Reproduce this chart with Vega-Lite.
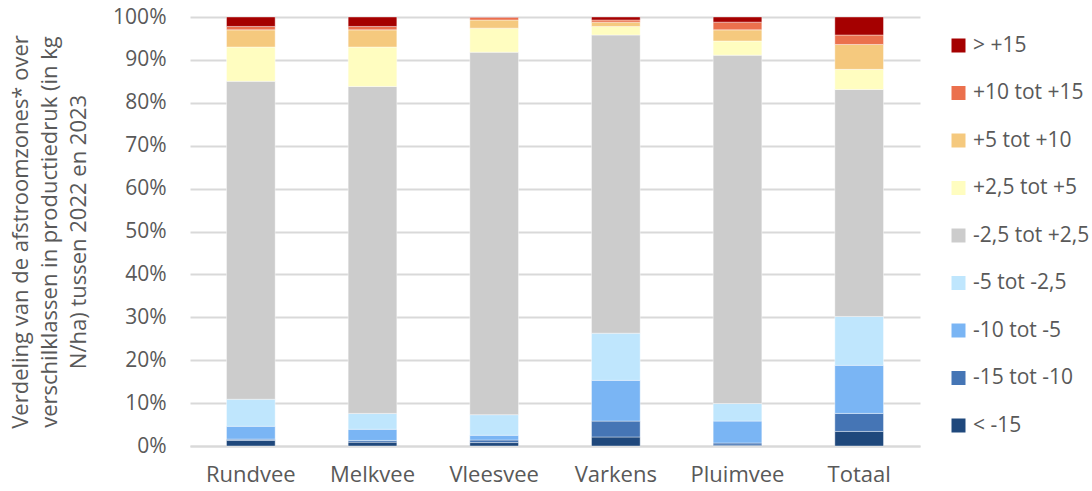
{
  "$schema": "https://vega.github.io/schema/vega-lite/v6.json",
  "width": 730,
  "height": 429,
  "autosize": {"type": "none"},
  "padding": {"left": 190, "top": 17, "right": 172, "bottom": 45},
  "background": "white",
  "config": {
    "font": "Open Sans",
    "view": {"stroke": null},
    "axis": {"labelFont": "Open Sans", "titleFont": "Open Sans", "labelColor": "#595959", "titleColor": "#595959"},
    "legend": {"labelFont": "Open Sans", "labelColor": "#595959"}
  },
  "data": {
    "values": [
      {"groep": "Rundvee", "klasse": "< -15", "k": 1, "v": 1.3},
      {"groep": "Rundvee", "klasse": "-15 tot -10", "k": 2, "v": 0.3},
      {"groep": "Rundvee", "klasse": "-10 tot -5", "k": 3, "v": 3.0},
      {"groep": "Rundvee", "klasse": "-5 tot -2,5", "k": 4, "v": 6.3},
      {"groep": "Rundvee", "klasse": "-2,5 tot +2,5", "k": 5, "v": 74.1},
      {"groep": "Rundvee", "klasse": "+2,5 tot +5", "k": 6, "v": 8.0},
      {"groep": "Rundvee", "klasse": "+5 tot +10", "k": 7, "v": 4.0},
      {"groep": "Rundvee", "klasse": "+10 tot +15", "k": 8, "v": 0.8},
      {"groep": "Rundvee", "klasse": "> +15", "k": 9, "v": 2.2},
      {"groep": "Melkvee", "klasse": "< -15", "k": 1, "v": 0.9},
      {"groep": "Melkvee", "klasse": "-15 tot -10", "k": 2, "v": 0.4},
      {"groep": "Melkvee", "klasse": "-10 tot -5", "k": 3, "v": 2.6},
      {"groep": "Melkvee", "klasse": "-5 tot -2,5", "k": 4, "v": 3.7},
      {"groep": "Melkvee", "klasse": "-2,5 tot +2,5", "k": 5, "v": 76.2},
      {"groep": "Melkvee", "klasse": "+2,5 tot +5", "k": 6, "v": 9.2},
      {"groep": "Melkvee", "klasse": "+5 tot +10", "k": 7, "v": 4.0},
      {"groep": "Melkvee", "klasse": "+10 tot +15", "k": 8, "v": 0.8},
      {"groep": "Melkvee", "klasse": "> +15", "k": 9, "v": 2.2},
      {"groep": "Vleesvee", "klasse": "< -15", "k": 1, "v": 0.8},
      {"groep": "Vleesvee", "klasse": "-15 tot -10", "k": 2, "v": 0.6},
      {"groep": "Vleesvee", "klasse": "-10 tot -5", "k": 3, "v": 1.1},
      {"groep": "Vleesvee", "klasse": "-5 tot -2,5", "k": 4, "v": 4.8},
      {"groep": "Vleesvee", "klasse": "-2,5 tot +2,5", "k": 5, "v": 84.5},
      {"groep": "Vleesvee", "klasse": "+2,5 tot +5", "k": 6, "v": 5.6},
      {"groep": "Vleesvee", "klasse": "+5 tot +10", "k": 7, "v": 1.9},
      {"groep": "Vleesvee", "klasse": "+10 tot +15", "k": 8, "v": 0.6},
      {"groep": "Vleesvee", "klasse": "> +15", "k": 9, "v": 0.1},
      {"groep": "Varkens", "klasse": "< -15", "k": 1, "v": 2.1},
      {"groep": "Varkens", "klasse": "-15 tot -10", "k": 2, "v": 3.7},
      {"groep": "Varkens", "klasse": "-10 tot -5", "k": 3, "v": 9.5},
      {"groep": "Varkens", "klasse": "-5 tot -2,5", "k": 4, "v": 11.0},
      {"groep": "Varkens", "klasse": "-2,5 tot +2,5", "k": 5, "v": 69.5},
      {"groep": "Varkens", "klasse": "+2,5 tot +5", "k": 6, "v": 2.0},
      {"groep": "Varkens", "klasse": "+5 tot +10", "k": 7, "v": 1.0},
      {"groep": "Varkens", "klasse": "+10 tot +15", "k": 8, "v": 0.5},
      {"groep": "Varkens", "klasse": "> +15", "k": 9, "v": 0.7},
      {"groep": "Pluimvee", "klasse": "< -15", "k": 1, "v": 0.2},
      {"groep": "Pluimvee", "klasse": "-15 tot -10", "k": 2, "v": 0.5},
      {"groep": "Pluimvee", "klasse": "-10 tot -5", "k": 3, "v": 5.1},
      {"groep": "Pluimvee", "klasse": "-5 tot -2,5", "k": 4, "v": 4.1},
      {"groep": "Pluimvee", "klasse": "-2,5 tot +2,5", "k": 5, "v": 81.2},
      {"groep": "Pluimvee", "klasse": "+2,5 tot +5", "k": 6, "v": 3.3},
      {"groep": "Pluimvee", "klasse": "+5 tot +10", "k": 7, "v": 2.6},
      {"groep": "Pluimvee", "klasse": "+10 tot +15", "k": 8, "v": 1.8},
      {"groep": "Pluimvee", "klasse": "> +15", "k": 9, "v": 1.2},
      {"groep": "Totaal", "klasse": "< -15", "k": 1, "v": 3.4},
      {"groep": "Totaal", "klasse": "-15 tot -10", "k": 2, "v": 4.2},
      {"groep": "Totaal", "klasse": "-10 tot -5", "k": 3, "v": 11.2},
      {"groep": "Totaal", "klasse": "-5 tot -2,5", "k": 4, "v": 11.4},
      {"groep": "Totaal", "klasse": "-2,5 tot +2,5", "k": 5, "v": 52.9},
      {"groep": "Totaal", "klasse": "+2,5 tot +5", "k": 6, "v": 4.7},
      {"groep": "Totaal", "klasse": "+5 tot +10", "k": 7, "v": 5.8},
      {"groep": "Totaal", "klasse": "+10 tot +15", "k": 8, "v": 2.2},
      {"groep": "Totaal", "klasse": "> +15", "k": 9, "v": 4.2}
    ]
  },
  "mark": {"type": "bar", "stroke": "white", "strokeWidth": 0.4},
  "encoding": {
    "x": {
      "field": "groep",
      "type": "nominal",
      "sort": ["Rundvee", "Melkvee", "Vleesvee", "Varkens", "Pluimvee", "Totaal"],
      "scale": {"paddingInner": 0.6, "paddingOuter": 0.3},
      "axis": {
        "title": null,
        "labelAngle": 0,
        "labelFontSize": 22,
        "labelPadding": 18,
        "ticks": false,
        "domainColor": "#d9d9d9",
        "domainWidth": 2
      }
    },
    "y": {
      "field": "v",
      "type": "quantitative",
      "stack": "normalize",
      "scale": {"domain": [0, 1]},
      "axis": {
        "format": ".0%",
        "values": [0, 0.1, 0.2, 0.3, 0.4, 0.5, 0.6, 0.7, 0.8, 0.9, 1],
        "labelOverlap": false,
        "title": ["Verdeling van de afstroomzones* over", "verschilklassen in productiedruk (in kg", "N/ha) tussen 2022 en 2023"],
        "titleFontSize": 22,
        "titleFontWeight": "normal",
        "titleLineHeight": 29,
        "titlePadding": 22,
        "labelFontSize": 21,
        "labelPadding": 24,
        "ticks": false,
        "domain": false,
        "gridColor": "#d9d9d9",
        "gridWidth": 2
      }
    },
    "color": {
      "field": "klasse",
      "type": "nominal",
      "scale": {
        "domain": ["> +15", "+10 tot +15", "+5 tot +10", "+2,5 tot +5", "-2,5 tot +2,5", "-5 tot -2,5", "-10 tot -5", "-15 tot -10", "< -15"],
        "range": ["#a50000", "#eb704d", "#f5c97e", "#fffdc0", "#cccccc", "#bfe6fd", "#7ab5f4", "#4575b5", "#1f487c"]
      },
      "legend": {
        "title": null,
        "orient": "none",
        "legendX": 758,
        "legendY": 18,
        "symbolType": "square",
        "symbolSize": 196,
        "symbolStrokeWidth": 0,
        "labelFontSize": 21,
        "labelOffset": 4,
        "labelLimit": 300,
        "rowPadding": 25.5
      }
    },
    "order": {"field": "k", "type": "quantitative", "sort": "ascending"}
  }
}
